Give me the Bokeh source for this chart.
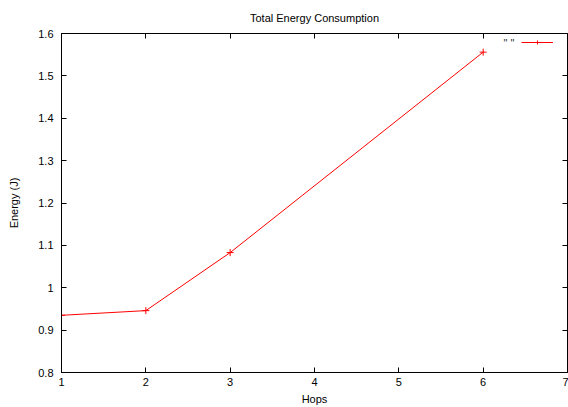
from bokeh.plotting import figure
from bokeh.models import (ColumnDataSource, LinearAxis, FixedTicker, CustomJSTickFormatter,
                          Range1d, Legend, LegendItem, Label)
from bokeh.core.properties import value
from bokeh.embed import file_html
from bokeh.resources import INLINE

# data
hops = [1, 2, 3, 6]
energy = [0.935, 0.946, 1.083, 1.556]
x_ticks = [1, 2, 3, 4, 5, 6, 7]
y_ticks = [0.8, 0.9, 1.0, 1.1, 1.2, 1.3, 1.4, 1.5, 1.6]
title_text = "Total Energy Consumption"
x_label = "Hops"
y_label = "Energy (J)"
series_name = '" "'

FONT = "Liberation Sans"
FS = "11px"
RED = "#ff0000"

src = ColumnDataSource(dict(x=hops, y=energy))

p = figure(width=568, height=407, output_backend="svg", toolbar_location=None,
           x_range=Range1d(1, 7), y_range=Range1d(0.8, 1.6),
           min_border_left=61, min_border_right=1, min_border_top=33, min_border_bottom=34,
           title=title_text)
p.title.align = "center"
p.title.text_font = FONT
p.title.text_font_size = FS
p.title.text_font_style = "normal"
p.title.text_color = "black"
p.title.standoff = 19

p.xgrid.visible = False
p.ygrid.visible = False
p.outline_line_color = "black"
p.outline_line_width = 1
p.background_fill_color = "white"
p.border_fill_color = "white"

fmt = CustomJSTickFormatter(code="return String(Math.round(tick*10)/10);")

for ax, ticks in ((p.xaxis[0], x_ticks), (p.yaxis[0], y_ticks)):
    ax.ticker = FixedTicker(ticks=ticks)
    ax.formatter = fmt
    ax.minor_tick_line_color = None
    ax.major_tick_in = 5
    ax.major_tick_out = 0
    ax.axis_line_color = "black"
    ax.major_label_text_font = FONT
    ax.major_label_text_font_size = FS
    ax.major_label_text_color = "black"
    ax.axis_label_text_font = FONT
    ax.axis_label_text_font_size = FS
    ax.axis_label_text_font_style = "normal"
    ax.axis_label_text_color = "black"

p.xaxis[0].axis_label = x_label
p.yaxis[0].axis_label = y_label
p.xaxis[0].major_label_standoff = 5
p.xaxis[0].axis_label_standoff = 4
p.yaxis[0].major_label_standoff = 8
p.yaxis[0].axis_label_standoff = 15

# mirrored ticks (gnuplot style), no labels
blank = CustomJSTickFormatter(code="return '';")
for loc, ticks in (("above", x_ticks), ("right", y_ticks)):
    a = LinearAxis(ticker=FixedTicker(ticks=ticks), formatter=blank,
                   major_tick_in=5, major_tick_out=0,
                   minor_tick_line_color=None, axis_line_color=None,
                   major_label_text_color=None, major_label_standoff=0)
    p.add_layout(a, loc)

r = p.line("x", "y", source=src, line_color=RED, line_width=1)
m = p.scatter("x", "y", source=src, marker="cross", size=7, line_color=RED, line_width=1)

# legend sample (glyph only; its title is drawn to the left, gnuplot style)
legend = Legend(items=[LegendItem(label=value(series_name), renderers=[r, m])],
                location=(460, 324), padding=0, margin=0, spacing=0,
                border_line_color=None, background_fill_alpha=0,
                glyph_width=32, glyph_height=10, label_width=0, label_height=10,
                label_standoff=0, label_text_font_size=FS, label_text_font=FONT,
                label_text_color=None)
p.add_layout(legend, "center")

p.add_layout(Label(x=6.37, y=1.578, text=series_name, text_align="right", text_baseline="middle",
                   text_font=FONT, text_font_size=FS, text_color="#333333"))

open("out.html", "w").write(file_html(p, INLINE))
